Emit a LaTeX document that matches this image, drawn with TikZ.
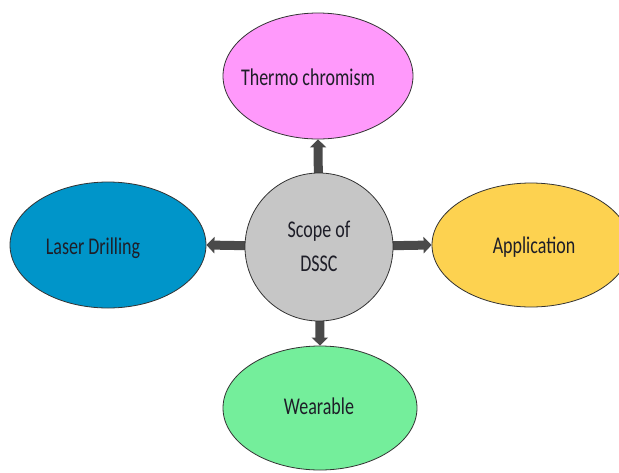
\documentclass[tikz,border=0pt]{standalone}
\usepackage{fontspec}
\setmainfont[FakeStretch=0.75]{Carlito}
\usetikzlibrary{shapes.geometric,arrows.meta,backgrounds}
\definecolor{pinkc}{HTML}{FF99FB}
\definecolor{bluec}{HTML}{0095C9}
\definecolor{yellowc}{HTML}{FDD250}
\definecolor{greenc}{HTML}{74EE9B}
\definecolor{greyc}{HTML}{C6C6C6}
\definecolor{edgec}{HTML}{333333}
\definecolor{arrc}{HTML}{4A4A4A}
\definecolor{txtc}{HTML}{1E1E28}
\begin{document}
\begin{tikzpicture}[x=1pt,y=-1pt,
  blob/.style={ellipse, draw=edgec, line width=0.8pt, inner sep=0pt},
  lbl/.style={font=\fontsize{24}{34}\selectfont, text=txtc, inner sep=0pt, anchor=base},
  blockarrow/.style={draw=arrc, line width=9pt, -{Triangle[width=16pt,length=8pt]}}]
\useasboundingbox (0,0) rectangle (619,472);
\clip (0,0) rectangle (619,472);
\node[blob, fill=pinkc, minimum width=190pt, minimum height=126pt] (t) at (318,76) {};
\node[blob, fill=bluec, minimum width=196pt, minimum height=126pt] (l) at (108,245) {};
\node[blob, fill=yellowc, minimum width=198pt, minimum height=124pt] (r) at (531,245) {};
\node[blob, fill=greenc, minimum width=194pt, minimum height=124pt] (b) at (320,408) {};
\node[circle, draw=edgec, line width=0.8pt, fill=greyc, minimum size=148pt, inner sep=0pt] (c) at (319,247) {};
\begin{pgfonlayer}{background}
\draw[blockarrow] (c.center) -- (t.south);
\draw[blockarrow] (c.center) -- (l.east);
\draw[blockarrow] (c.center) -- (r.west);
\draw[blockarrow] (c.center) -- (b.north);
\end{pgfonlayer}
\node[lbl] (tt) at (308,85) {Thermo chromism};
\node[lbl] (lt) at (93,254) {Laser Drilling};
\node[lbl] (rt) at (534,253) {Application};
\node[lbl] (bt) at (319,414) {Wearable};
\node[lbl, align=center] (ct) at (319,271) {Scope of\\DSSC};
\end{tikzpicture}
\end{document}
